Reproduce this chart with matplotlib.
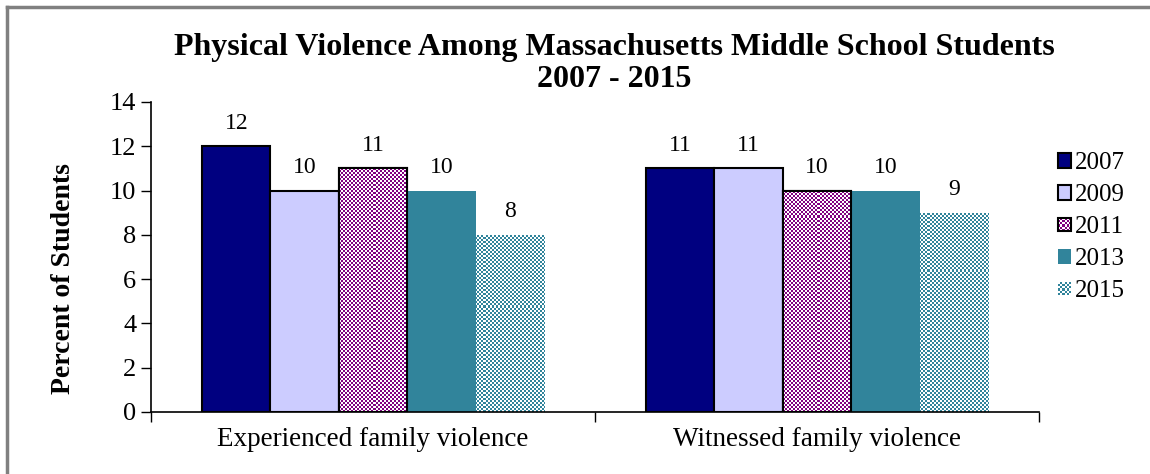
import numpy as np
import matplotlib.pyplot as plt
from matplotlib.colors import to_rgb
from matplotlib.patches import Patch, Rectangle
from matplotlib.lines import Line2D
from matplotlib.legend_handler import HandlerBase

categories = ["Experienced family violence", "Witnessed family violence"]
years = ["2007", "2009", "2011", "2013", "2015"]
values = {
    "2007": [12, 11],
    "2009": [10, 11],
    "2011": [11, 10],
    "2013": [10, 10],
    "2015": [8, 9],
}
yticks = [0, 2, 4, 6, 8, 10, 12, 14]

colors = {"2007": "#000080", "2009": "#CCCCFF", "2011": "#800080",
          "2013": "#31849B", "2015": "#31849B"}
edged = {"2007": True, "2009": True, "2011": True, "2013": False, "2015": False}
checkered = {"2011", "2015"}

plt.rcParams["font.family"] = ["Liberation Serif", "DejaVu Serif"]

W, H = 1150, 474
fig = plt.figure(figsize=(W / 100, H / 100), dpi=100)
# axes box on whole pixels so the 2px checker stays crisp
ax = fig.add_axes([151 / W, 62 / H, 888 / W, 310 / H])

x = np.arange(len(categories))
width = 0.154
ax.set_xlim(-0.5, len(categories) - 0.5)
ax.set_ylim(0, 14)


def checker_image(color, nx, ny):
    rgb = np.array(to_rgb(color))
    yy, xx = np.mgrid[0:ny, 0:nx]
    mask = (xx + yy) % 2 == 0
    img = np.ones((ny, nx, 3))
    img[mask] = rgb
    return img


class CheckerHandler(HandlerBase):
    """Small square legend key filled with a checker pattern."""

    def __init__(self, color, edge, ncell=6):
        super().__init__()
        self.color = color
        self.edge = edge
        self.ncell = ncell

    def create_artists(self, legend, orig_handle, xdescent, ydescent,
                       width, height, fontsize, trans):
        s = min(width, height)
        x0, y0 = -xdescent, -ydescent + (height - s) / 2
        c = s / self.ncell
        arts = [Rectangle((x0, y0), s, s, facecolor="white", edgecolor="none",
                          transform=trans)]
        for i in range(self.ncell):
            for j in range(self.ncell):
                if (i + j) % 2 == 0:
                    arts.append(Rectangle((x0 + i * c, y0 + j * c), c, c,
                                          facecolor=self.color, edgecolor="none",
                                          lw=0, transform=trans))
        if self.edge:
            arts.append(Rectangle((x0, y0), s, s, fill=False, edgecolor="black",
                                  lw=1.5, transform=trans))
        return arts


handles = []
handler_map = {}
for i, yr in enumerate(years):
    offs = (i - 2) * width
    chk = yr in checkered
    bars = ax.bar(x + offs, values[yr], width,
                  color="white" if chk else colors[yr],
                  edgecolor="black" if edged[yr] else "none",
                  linewidth=1.5 if edged[yr] else 0, zorder=2)
    if chk:
        img = checker_image(colors[yr], 888 // 2, 310 // 2)
        for b in bars:
            im = ax.imshow(img, extent=(-0.5, len(categories) - 0.5, 0, 14),
                           aspect="auto", interpolation="nearest", zorder=2.5,
                           origin="lower")
            im.set_clip_path(b)
        if edged[yr]:
            for b in bars:
                ax.add_patch(Rectangle(b.get_xy(), b.get_width(), b.get_height(),
                                       fill=False, edgecolor="black",
                                       linewidth=1.5, zorder=3))
    for b, v in zip(bars, values[yr]):
        ax.annotate(str(v), (b.get_x() + b.get_width() / 2, v),
                    xytext=(0, 9), textcoords="offset points",
                    ha="center", va="bottom", fontsize=17)
    h = Patch(facecolor=colors[yr],
              edgecolor="black" if edged[yr] else "none",
              linewidth=1.5 if edged[yr] else 0)
    handles.append(h)
    if chk:
        handler_map[h] = CheckerHandler(colors[yr], edged[yr])

ax.set_ylim(0, 14)
ax.set_yticks(yticks)
ax.tick_params(axis="y", labelsize=19, direction="out", length=7, width=1)
ax.set_xticks(x)
ax.set_xticklabels(categories, fontsize=19.5)
ax.tick_params(axis="x", length=0, pad=11)
ax.set_xticks([-0.5, 0.5, 1.5], minor=True)
ax.tick_params(axis="x", which="minor", direction="out", length=7, width=1)
for s in ["top", "right"]:
    ax.spines[s].set_visible(False)
for s in ["left", "bottom"]:
    ax.spines[s].set_linewidth(1.2)

ax.set_ylabel("Percent of Students", fontsize=20, fontweight="bold")
ax.yaxis.set_label_coords(-0.084, 0.432)

fig.text(614 / W, 1 - 48 / H, "Physical Violence Among Massachusetts Middle School Students",
         ha="center", va="center", fontsize=23, fontweight="bold")
fig.text(614 / W, 1 - 80 / H, "2007 - 2015",
         ha="center", va="center", fontsize=23, fontweight="bold")

leg = ax.legend(handles, years, loc="upper left", bbox_to_anchor=(1.021, 0.838),
                frameon=False, fontsize=18, handlelength=0.55, handleheight=0.55,
                handletextpad=0.15, labelspacing=0.4, borderaxespad=0,
                borderpad=0, handler_map=handler_map)

# outer chart frame
fig.add_artist(Line2D([7 / W, 7 / W], [0, 1 - 7 / H], color="#808080", lw=2.5))
fig.add_artist(Line2D([7 / W, 1], [1 - 7 / H, 1 - 7 / H], color="#808080", lw=2.5))

fig.savefig("out.png", dpi=100)
